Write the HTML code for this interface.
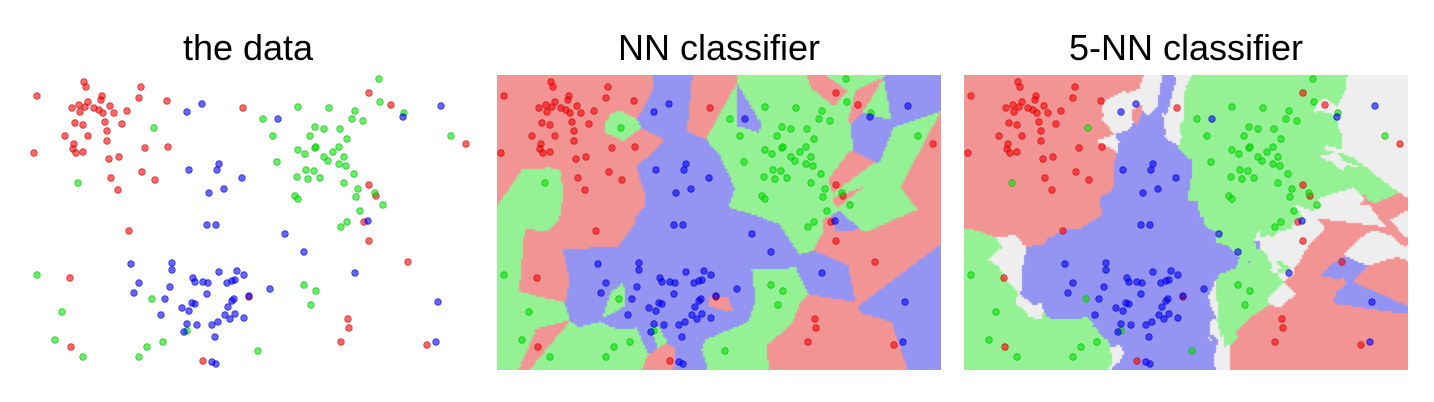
<!DOCTYPE html>
<html><head><meta charset="utf-8"><style>
body{margin:0;background:#fff;width:1434px;height:402px;overflow:hidden;font-family:"Liberation Sans",sans-serif}
.t{position:absolute;top:27px;font-size:36px;line-height:41px;color:#000;text-align:center;width:444px}
canvas{position:absolute;top:75px}
svg{position:absolute;left:0;top:0}
</style></head><body>
<div class="t" style="left:26px">the data</div>
<div class="t" style="left:497px">NN classifier</div>
<div class="t" style="left:964px">5-NN classifier</div>
<canvas id="c1" width="444" height="295" style="left:497px"></canvas>
<canvas id="c2" width="444" height="295" style="left:964px"></canvas>
<svg id="s" width="1434" height="402"></svg>
<script>
// class 0 = red, 1 = green, 2 = blue ; values in data units
const redX=[84,86,37,141,139,167,102,101,88,72,79,85,80,94,99,103,110,114,127,75,83,105,122,107,65,88,107,74,73,76,83,34,109,119,145,168,142,155,111,118,243,369,391,369,376,466,129,70,71,203,249,364,369,408,348,349,341,427];
const redY=[82,87,96,87,98,101,96,100,102,108,105,107,112,108,110,113,106,113,111,123,125,122,124,131,136,136,141,144,149,153,152,153,159,157,148,147,172,180,178,190,108,93,105,185,196,144,231,278,347,361,297,222,241,262,319,328,342,345];
const greenX=[154,78,379,380,298,329,263,355,352,363,404,273,315,324,340,310,347,298,305,315,316,333,339,324,328,344,339,346,277,306,314,297,308,320,354,344,358,356,295,298,375,383,360,451,37,62,55,83,152,147,163,139,187,347,341,304,316,311,258];
const greenY=[128,183,79,102,107,108,119,111,119,121,113,136,127,129,129,136,139,150,154,148,147,152,147,157,161,157,164,166,162,170,171,177,179,178,174,183,189,197,196,199,193,205,211,136,275,312,340,357,299,347,342,357,331,222,227,285,291,305,351];
const blueX=[187,202,189,219,217,242,224,209,278,403,441,368,207,216,131,172,172,139,134,170,165,193,195,203,208,219,237,244,227,232,235,207,192,195,182,189,232,234,228,161,225,235,230,244,218,212,197,187,184,215,212,216,249,285,304,355,270,438,436];
const blueY=[112,104,170,164,170,178,189,193,119,117,106,221,225,225,264,263,270,283,293,287,299,278,282,282,283,272,271,275,283,281,280,294,303,304,308,311,301,299,307,315,315,314,319,318,322,325,325,324,332,337,362,364,296,234,252,273,289,302,342];
const xMin=30, yMin=75, W=444, H=295;
const pts=[];
[[redX,redY,0],[greenX,greenY,1],[blueX,blueY,2]].forEach(([xs,ys,c])=>xs.forEach((x,i)=>pts.push([x,ys[i],c])));
const regionCol=['#f39494','#94f294','#9494f2'];
const tieCol='#eeeeee';
function xs(v,left){return left+(v-xMin);}
function ys(v){return 75+(v-yMin);}
function classify(px,py,k){
  const d=pts.map(p=>[(p[0]-px)**2+(p[1]-py)**2,p[2]]);
  d.sort((a,b)=>a[0]-b[0]);
  const cnt=[0,0,0];for(let i=0;i<k;i++)cnt[d[i][1]]++;
  const m=Math.max(...cnt);const w=cnt.map((c,i)=>c===m?i:-1).filter(i=>i>=0);
  return w.length>1?-1:w[0];
}
function drawRegions(id,k){
  const ctx=document.getElementById(id).getContext('2d');const s=2;
  for(let y=0;y<H;y+=s)for(let x=0;x<W;x+=s){
    const c=classify(xMin+x+s/2,yMin+y+s/2,k);
    ctx.fillStyle=c<0?tieCol:regionCol[c];ctx.fillRect(x,y,s,s);
  }
}
drawRegions('c1',1);drawRegions('c2',5);
const svg=document.getElementById('s');
const fill=['rgba(255,0,0,0.6)','rgba(0,230,0,0.6)','rgba(0,0,255,0.6)'];
const stroke=['rgba(200,0,0,0.7)','rgba(0,180,0,0.7)','rgba(0,0,200,0.7)'];
const names=['red','green','blue'];
[30,497,964].forEach((left,pi)=>{
  pts.forEach(p=>{
    const c=document.createElementNS('http://www.w3.org/2000/svg','circle');
    c.setAttribute('cx',xs(p[0],left));c.setAttribute('cy',ys(p[1]));c.setAttribute('r',3.3);
    c.setAttribute('fill',fill[p[2]]);c.setAttribute('stroke',stroke[p[2]]);c.setAttribute('stroke-width',0.8);
    
    
    svg.appendChild(c);
  });
});
</script>
</body></html>
